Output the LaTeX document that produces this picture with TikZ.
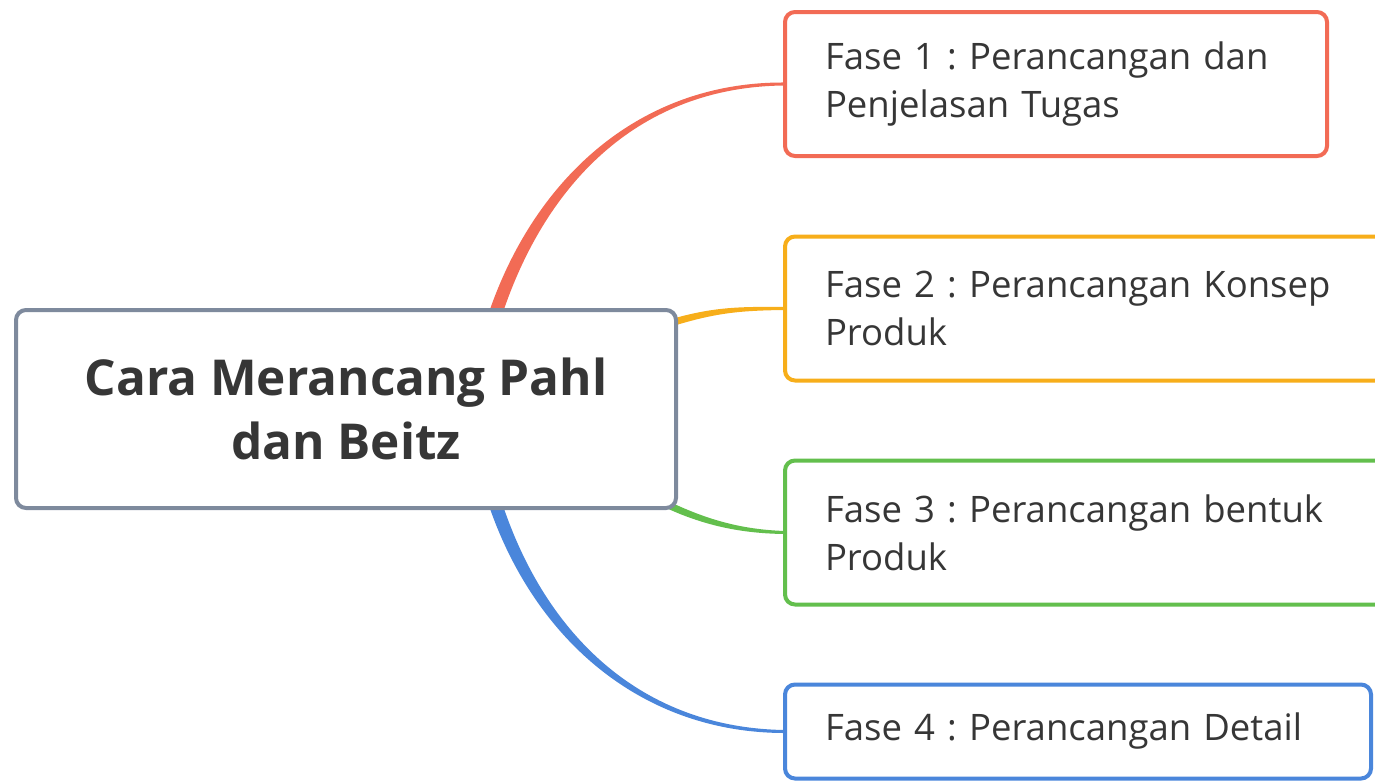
\documentclass[tikz,border=0pt]{standalone}
\usepackage{fontspec}
\setmainfont{Open Sans}
\usetikzlibrary{calc,backgrounds}

\definecolor{redbr}{HTML}{F26B55}
\definecolor{orangebr}{HTML}{F7AE1A}
\definecolor{greenbr}{HTML}{63BF4D}
\definecolor{bluebr}{HTML}{4A86DB}
\definecolor{rootline}{HTML}{7E8A9D}
\definecolor{txt}{HTML}{363636}

\tikzset{
  box/.style={draw, line width=4pt, rounded corners=10pt, fill=white, text=txt},
  fase/.style={box, anchor=west, inner xsep=40pt, inner ysep=0pt,
    minimum height=144pt, align=left, font=\frenchspacing\fontsize{36.5}{48}\selectfont},
}

\begin{document}
\begin{tikzpicture}[x=1pt,y=-1pt]
\useasboundingbox (0,0) rectangle (1375,782);

\node[box, draw=rootline, minimum width=660pt, minimum height=198pt, align=center,
  font=\bfseries\fontsize{49.5}{64}\selectfont] (root) at (346,409) {Cara Merancang Pahl\\dan Beitz};

\node[fase, draw=redbr, text width=462pt] (f1) at (783,84) {Fase 1 : Perancangan dan\\Penjelasan Tugas};
\node[fase, draw=orangebr, text width=560pt] (f2) at (783,308.5) {Fase 2 : Perancangan Konsep\\Produk};
\node[fase, draw=greenbr, text width=560pt] (f3) at (783,532.5) {Fase 3 : Perancangan bentuk\\Produk};
\node[fase, draw=bluebr, text width=506pt, minimum height=94pt] (f4) at (783,731.5) {Fase 4 : Perancangan Detail};

\begin{scope}[on background layer]
\coordinate (r0) at ($(root.north west)!0.725!(root.north east)$);
\coordinate (o0) at ($(root.north east)+(-4,14)$);
\coordinate (g0) at ($(root.south east)+(-12,-6)$);
\coordinate (b0) at ($(root.south west)!0.725!(root.south east)$);

% tapered branches
\fill[redbr] ($(r0)+(-7,6)$) .. controls ($(r0)+(39,-130)$) and ($(f1.west)+(-143,-2.5)$) .. ($(f1.west)+(2,-1.5)$)
  -- ($(f1.west)+(2,1.5)$) .. controls ($(f1.west)+(-143,2.5)$) and ($(r0)+(51,-126)$) .. ($(r0)+(7,6)$) -- cycle;
\fill[orangebr] ($(o0)+(-1,-3.4)$) .. controls ($(o0)+(40,-15)$) and ($(f2.west)+(-43,-2)$) .. ($(f2.west)+(2,-1.5)$)
  -- ($(f2.west)+(2,1.5)$) .. controls ($(f2.west)+(-43,2)$) and ($(o0)+(42,-9)$) .. ($(o0)+(1,3.4)$) -- cycle;
\fill[greenbr] ($(g0)+(1.5,-3.2)$) .. controls ($(g0)+(39.5,15)$) and ($(f3.west)+(-43,-3)$) .. ($(f3.west)+(2,-1.5)$)
  -- ($(f3.west)+(2,1.5)$) .. controls ($(f3.west)+(-43,1)$) and ($(g0)+(36.5,21)$) .. ($(g0)+(-1.5,3.2)$) -- cycle;
\fill[bluebr] ($(b0)+(-7,-6)$) .. controls ($(b0)+(39,130)$) and ($(f4.west)+(-141,1.5)$) .. ($(f4.west)+(2,1.5)$)
  -- ($(f4.west)+(2,-1.5)$) .. controls ($(f4.west)+(-141,-3.5)$) and ($(b0)+(51,126)$) .. ($(b0)+(7,-6)$) -- cycle;
\end{scope}
\end{tikzpicture}
\end{document}
